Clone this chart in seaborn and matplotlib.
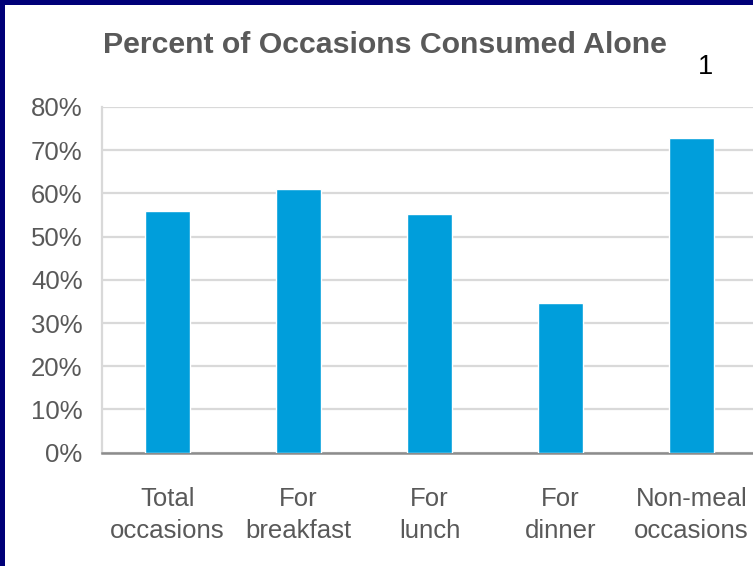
import matplotlib
matplotlib.use("Agg")
import matplotlib.pyplot as plt
import matplotlib.patches as mpatches
from matplotlib.ticker import PercentFormatter, MultipleLocator
import seaborn as sns
import pandas as pd

# Share of eating occasions consumed alone
categories = ["Total\noccasions", "For\nbreakfast", "For\nlunch", "For\ndinner", "Non-meal\noccasions"]
values = [0.56, 0.61, 0.552, 0.346, 0.728]
title = "Percent of Occasions Consumed Alone"
page_number = "1"

sns.set_theme(style="white")
plt.rcParams["font.family"] = ["Liberation Sans", "DejaVu Sans"]

W, H = 753, 566
fig = plt.figure(figsize=(W / 100, H / 100), dpi=100)
fig.patch.set_facecolor("white")

# axes placed in pixel terms; the right end runs slightly past the page edge
left_px, right_px, top_px, bottom_px = 102, 757, 107, 452.7
ax = fig.add_axes([left_px / W, 1 - bottom_px / H,
                   (right_px - left_px) / W, (bottom_px - top_px) / H])

df = pd.DataFrame({"category": categories, "value": values})
sns.barplot(data=df, x="category", y="value", color="#009EDB", saturation=1,
            width=0.345, ax=ax, zorder=3)

ax.set_xlim(-0.5, 4.5)
ax.set_ylim(0, 0.8)
ax.yaxis.set_major_locator(MultipleLocator(0.1))
ax.yaxis.set_major_formatter(PercentFormatter(1.0, decimals=0))
ax.set_xlabel("")
ax.set_ylabel("")

ax.grid(axis="y", color="#D9D9D9", linewidth=1.6, zorder=0)
ax.grid(axis="x", visible=False)
ax.set_axisbelow(True)

for side in ("top", "right"):
    ax.spines[side].set_visible(False)
ax.spines["left"].set_color("#D9D9D9")
ax.spines["left"].set_linewidth(1.6)
ax.spines["bottom"].set_color("#8C8C8C")
ax.spines["bottom"].set_linewidth(1.8)

ax.tick_params(axis="y", length=0, pad=14, labelsize=18.5, labelcolor="#595959")
ax.tick_params(axis="x", length=0, pad=25, labelsize=18.5, labelcolor="#595959")
for lbl in ax.get_xticklabels():
    lbl.set_linespacing(1.42)

fig.text(385 / W, 1 - 53 / H, title, ha="center", va="baseline",
         fontsize=21.8, fontweight="bold", color="#595959")
fig.text(706 / W, 1 - 74 / H, page_number, ha="center", va="baseline",
         fontsize=19.5, color="black")

# navy frame along the top and left edges
fig.patches.append(mpatches.Rectangle((0, 1 - 5 / H), 1, 5 / H, transform=fig.transFigure,
                                      facecolor="#000078", edgecolor="none", zorder=10))
fig.patches.append(mpatches.Rectangle((0, 0), 5 / W, 1, transform=fig.transFigure,
                                      facecolor="#000078", edgecolor="none", zorder=10))

fig.savefig("out.png", dpi=100, facecolor="white")
